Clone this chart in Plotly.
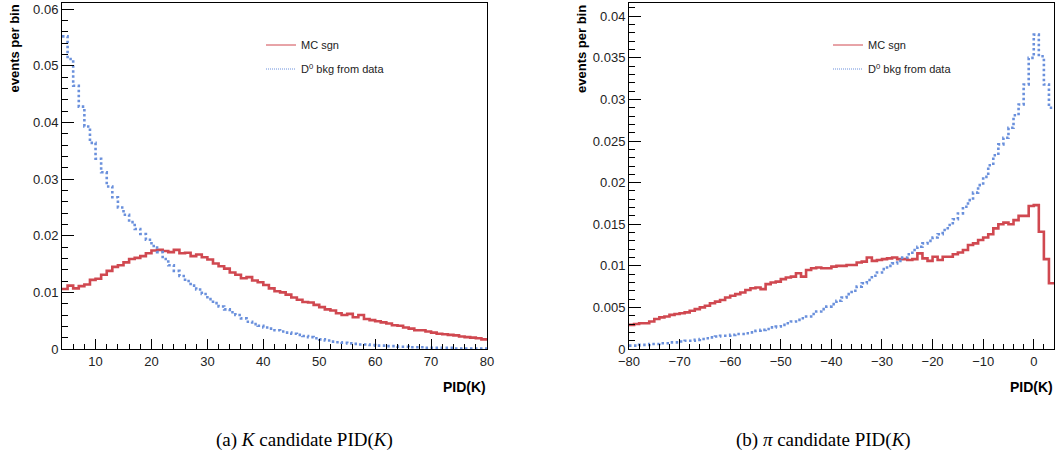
"""
PID(K) distributions: MC signal vs D0 background from data.
"""

import numpy as np
import plotly.graph_objects as go

# ---- data (1-unit bins) ----
# (a) K candidate, bins from 4 to 80
k_lo = 4
k_sgn = [0.0106, 0.0112, 0.0107, 0.0111, 0.0114, 0.0122, 0.0124, 0.0131, 0.0138, 0.0145,
         0.0148, 0.0153, 0.0159, 0.0161, 0.0164, 0.0169, 0.0174, 0.0175, 0.0173, 0.0171,
         0.0175, 0.0169, 0.0170, 0.0164, 0.0167, 0.0162, 0.0158, 0.0151, 0.0146, 0.0142,
         0.0135, 0.0131, 0.0125, 0.0127, 0.0121, 0.0118, 0.0113, 0.0107, 0.0102, 0.0100,
         0.0096, 0.0091, 0.0087, 0.0083, 0.0082, 0.0078, 0.0074, 0.0070, 0.0068, 0.0063,
         0.0060, 0.0062, 0.0056, 0.0060, 0.0053, 0.0051, 0.0049, 0.0047, 0.0045, 0.0042,
         0.0041, 0.0038, 0.0036, 0.0033, 0.0033, 0.0031, 0.0029, 0.0027, 0.0026, 0.0025,
         0.0024, 0.0022, 0.0021, 0.0020, 0.0019, 0.0017]
k_bkg = [0.0552, 0.0512, 0.0465, 0.0428, 0.0393, 0.0364, 0.0336, 0.0312, 0.0287, 0.0268,
         0.0250, 0.0237, 0.0224, 0.0212, 0.0203, 0.0193, 0.0182, 0.0171, 0.0159, 0.0148,
         0.0138, 0.0129, 0.0120, 0.0112, 0.0105, 0.0097, 0.0088, 0.0081, 0.0075, 0.0070,
         0.0065, 0.0060, 0.0054, 0.0048, 0.0044, 0.0041, 0.0038, 0.0036, 0.0033, 0.0031,
         0.0029, 0.0027, 0.0025, 0.0023, 0.0021, 0.0019, 0.0017, 0.0015, 0.0013, 0.0012,
         0.0011, 0.0010, 0.0009, 0.0008, 0.0008, 0.0007, 0.0006, 0.0006, 0.0005, 0.0005,
         0.0004, 0.0004, 0.0003, 0.0003, 0.0003, 0.0002, 0.0002, 0.0002, 0.0002, 0.0002,
         0.0001, 0.0001, 0.0001, 0.0001, 0.0001, 0.0001]

# (b) pi candidate, bins from -80 to 4
pi_lo = -80
pi_sgn = [0.0029, 0.0030, 0.0031, 0.0031, 0.0033, 0.0036, 0.0038, 0.0039, 0.0041, 0.0042,
          0.0043, 0.0044, 0.0046, 0.0048, 0.0050, 0.0052, 0.0055, 0.0057, 0.0059, 0.0062,
          0.0064, 0.0066, 0.0068, 0.0071, 0.0073, 0.0074, 0.0072, 0.0078, 0.0080, 0.0081,
          0.0084, 0.0086, 0.0087, 0.0091, 0.0087, 0.0095, 0.0097, 0.0098, 0.0097, 0.0097,
          0.0099, 0.0100, 0.0100, 0.0101, 0.0101, 0.0104, 0.0105, 0.0110, 0.0106, 0.0107,
          0.0108, 0.0109, 0.0110, 0.0108, 0.0108, 0.0107, 0.0108, 0.0115, 0.0109, 0.0106,
          0.0111, 0.0107, 0.0111, 0.0111, 0.0114, 0.0116, 0.0119, 0.0125, 0.0127, 0.0131,
          0.0134, 0.0138, 0.0145, 0.0150, 0.0152, 0.0150, 0.0155, 0.0160, 0.0160, 0.0172,
          0.0173, 0.0141, 0.0108, 0.0079]
pi_bkg = [0.0004, 0.0004, 0.0005, 0.0005, 0.0006, 0.0006, 0.0007, 0.0007, 0.0008, 0.0008,
          0.0009, 0.0010, 0.0010, 0.0011, 0.0012, 0.0013, 0.0014, 0.0015, 0.0016, 0.0016,
          0.0017, 0.0018, 0.0018, 0.0019, 0.0020, 0.0022, 0.0023, 0.0024, 0.0026, 0.0027,
          0.0029, 0.0031, 0.0033, 0.0035, 0.0037, 0.0039, 0.0042, 0.0045, 0.0048, 0.0051,
          0.0054, 0.0058, 0.0062, 0.0066, 0.0070, 0.0075, 0.0079, 0.0083, 0.0088, 0.0092,
          0.0096, 0.0100, 0.0103, 0.0106, 0.0110, 0.0114, 0.0119, 0.0123, 0.0127, 0.0130,
          0.0134, 0.0138, 0.0143, 0.0149, 0.0156, 0.0163, 0.0171, 0.0179, 0.0188, 0.0197,
          0.0207, 0.0221, 0.0233, 0.0246, 0.0254, 0.0266, 0.0281, 0.0294, 0.0318, 0.0350,
          0.0378, 0.0352, 0.0318, 0.0290]

k_xticks = [10, 20, 30, 40, 50, 60, 70, 80]
k_yticks = [0, 0.01, 0.02, 0.03, 0.04, 0.05, 0.06]
pi_xticks = [-80, -70, -60, -50, -40, -30, -20, -10, 0]
pi_yticks = [0, 0.005, 0.01, 0.015, 0.02, 0.025, 0.03, 0.035, 0.04]

RED = "#d04850"
BLUE = "#6a90dc"
W, H = 1055, 466


def steps(lo, vals):
    """Bordas dos bins + valores repetidos para desenhar com line_shape='hv'."""
    edges = lo + np.arange(len(vals) + 1)
    return edges, list(vals) + [vals[-1]]


def px(x):
    return x / W


def py(y):
    return 1 - y / H


fig = go.Figure()

panels = [
    ("x", "y", k_lo, k_sgn, k_bkg, "legend", "legend2"),
    ("x2", "y2", pi_lo, pi_sgn, pi_bkg, "legend3", "legend4"),
]
for xa, ya, lo, sgn, bkg, lg1, lg2 in panels:
    ex, ey = steps(lo, sgn)
    fig.add_trace(go.Scatter(x=ex, y=ey, mode="lines", line_shape="hv",
                             line=dict(color=RED, width=2.6), xaxis=xa, yaxis=ya,
                             showlegend=False, hoverinfo="skip"))
    ex, ey = steps(lo, bkg)
    fig.add_trace(go.Scatter(x=ex, y=ey, mode="lines", line_shape="hv",
                             line=dict(color=BLUE, width=2.6, dash="2.5px,2.5px"),
                             xaxis=xa, yaxis=ya, showlegend=False, hoverinfo="skip"))
    # entradas da legenda (linhas finas como no ROOT)
    fig.add_trace(go.Scatter(x=[None], y=[None], mode="lines", name="MC sgn",
                             line=dict(color=RED, width=1), xaxis=xa, yaxis=ya, legend=lg1))
    fig.add_trace(go.Scatter(x=[None], y=[None], mode="lines",
                             name="D<sup>0</sup> bkg from data",
                             line=dict(color=BLUE, width=1, dash="1px,1px"),
                             xaxis=xa, yaxis=ya, legend=lg2))

axis_common = dict(showline=True, linecolor="black", linewidth=1, mirror=True,
                   showgrid=False, zeroline=False, ticks="inside", tickcolor="black",
                   automargin=False,
                   tickfont=dict(family="Liberation Sans", size=13, color="#222"))

y_bot, y_top = py(349), py(3)
fig.update_layout(
    width=W, height=H,
    margin=dict(l=0, r=0, t=0, b=0, pad=0),
    paper_bgcolor="white", plot_bgcolor="white",
    font=dict(family="Liberation Sans", color="#222"),
    xaxis=dict(domain=[px(62), px(487)], range=[4, 80], anchor="y",
               tickvals=k_xticks, ticklen=10,
               minor=dict(dtick=2, tick0=0, ticklen=5, ticks="inside", tickcolor="black"),
               **axis_common),
    yaxis=dict(domain=[y_bot, y_top], range=[0, 0.0611], anchor="x",
               tickvals=k_yticks, ticktext=["0", "0.01", "0.02", "0.03", "0.04", "0.05", "0.06"],
               ticklen=12,
               minor=dict(dtick=0.002, tick0=0, ticklen=6, ticks="inside", tickcolor="black"),
               **axis_common),
    xaxis2=dict(domain=[px(629), px(1054)], range=[-80, 4], anchor="y2",
                tickvals=pi_xticks, ticklen=10,
                minor=dict(dtick=2, tick0=0, ticklen=5, ticks="inside", tickcolor="black"),
                **axis_common),
    yaxis2=dict(domain=[y_bot, y_top], range=[0, 0.0416], anchor="x2",
                tickvals=pi_yticks,
                ticktext=["0", "0.005", "0.01", "0.015", "0.02", "0.025", "0.03", "0.035", "0.04"],
                ticklen=12,
                minor=dict(dtick=0.001, tick0=0, ticklen=6, ticks="inside", tickcolor="black"),
                **axis_common),
)

leg_common = dict(xanchor="left", yanchor="middle", bgcolor="rgba(0,0,0,0)",
                  borderwidth=0, font=dict(family="Liberation Sans", size=11, color="#222"))
fig.update_layout(
    legend=dict(x=px(261), y=py(45), **leg_common),
    legend2=dict(x=px(261), y=py(69), **leg_common),
    legend3=dict(x=px(828), y=py(45), **leg_common),
    legend4=dict(x=px(828), y=py(69), **leg_common),
)

# títulos dos eixos (estilo ROOT: alinhados no fim do eixo)
for xc in (13.5, 581):
    fig.add_annotation(text="<b>events per bin</b>", x=px(xc), y=py(3), xref="paper",
                       yref="paper", xanchor="center", yanchor="top", textangle=-90,
                       showarrow=False, font=dict(family="Liberation Sans", size=13, color="black"))
for xr in (488, 1055):
    fig.add_annotation(text="<b>PID(K)</b>", x=px(xr), y=py(387), xref="paper", yref="paper",
                       xanchor="right", yanchor="middle", showarrow=False,
                       font=dict(family="Liberation Sans", size=14, color="black"))

# legendas das subfiguras
captions = [("(a) <i>K</i> candidate PID(<i>K</i>)", 304.5),
            ("(b) <i>π</i> candidate PID(<i>K</i>)", 823)]
for txt, xc in captions:
    fig.add_annotation(text=txt, x=px(xc), y=py(440), xref="paper", yref="paper",
                       xanchor="center", yanchor="middle", showarrow=False,
                       font=dict(family="Liberation Serif", size=19, color="black"))

# tirar a margem padrão do <body> para a figura ocupar a janela toda
fig.write_html("out.html", config={"displayModeBar": False},
               post_script="document.body.style.margin='0';document.body.style.overflow='hidden';")
